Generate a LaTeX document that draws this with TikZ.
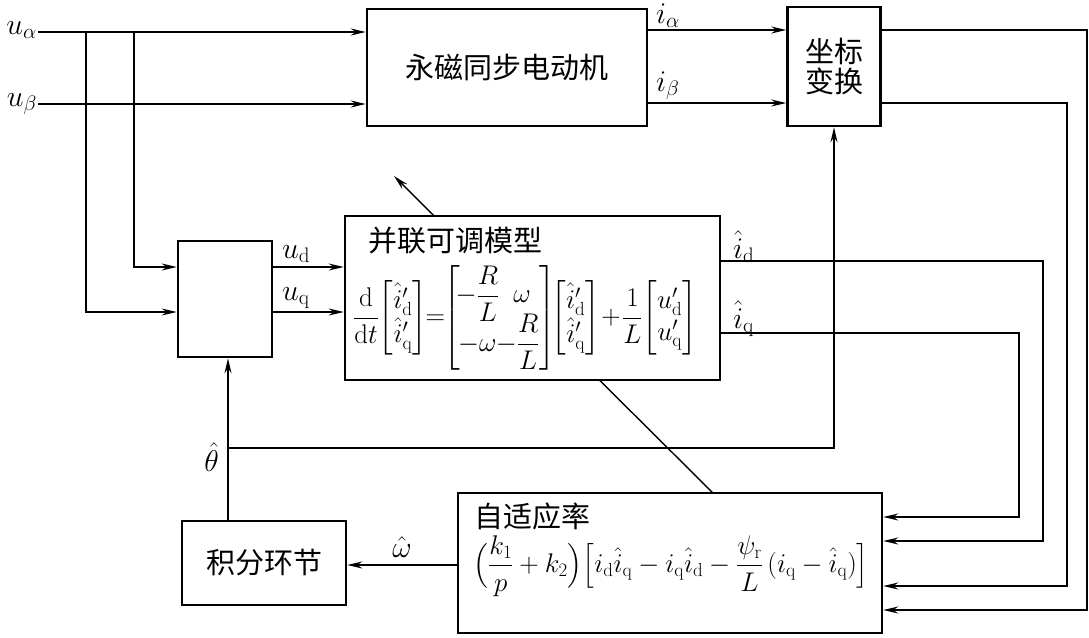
\RequirePackage{fix-cm}
\documentclass[tikz,border=0pt]{standalone}
\usepackage{amsmath}
\usepackage{fontspec}
\newfontfamily\cjk{Noto Sans CJK SC}
\usetikzlibrary{arrows.meta}
\tikzset{
  blk/.style={draw, line width=2.6pt, fill=white, inner sep=0pt},
  wire/.style={line width=1.4pt},
  arr/.style={wire, -{Stealth[length=15pt,width=7pt,inset=5pt]}},
  lbl/.style={inner sep=0pt, font=\fontsize{30}{35}\selectfont},
  eqt/.style={inner sep=0pt, font=\fontsize{27}{32}\selectfont},
  cjkt/.style={font=\cjk\fontsize{29}{34}\selectfont}
}
\newcommand{\rmsub}[1]{\mathrm{#1}}
\begin{document}
\begin{tikzpicture}[x=1pt,y=-1pt]
\useasboundingbox (0,0) rectangle (1089,637);
% diagonal adaptation arrow (behind the model box)
\coordinate (dg1) at (714,494);
\coordinate (dg2) at (394,176);
\draw[arr] (dg1) -- (dg2);
% blocks
\node[blk, cjkt, minimum width=280pt, minimum height=117pt] (motor) at (507,67.5) {永磁同步电动机};
\node[blk, cjkt, minimum width=93pt, minimum height=119pt, align=center] (coord) at (834,66.5) {坐标\\[-4pt]变换};
\node[blk, minimum width=94pt, minimum height=116pt] (small) at (225,299) {};
\node[blk, minimum width=375pt, minimum height=164pt] (par) at (532.5,298) {};
\node[blk, cjkt, minimum width=164pt, minimum height=84pt] (integ) at (264,563) {积分环节};
\node[blk, minimum width=424pt, minimum height=140pt] (adapt) at (670,563) {};
% block contents
\node[cjkt, anchor=west, inner sep=0pt] (partitle) at (368,241) {并联可调模型};
\node[eqt, anchor=center] (pareq) at (525,318) {$\dfrac{\mathrm{d}}{\mathrm{d}t}\!\begin{bmatrix}\hat{i}'_{\rmsub{d}}\\ \hat{i}'_{\rmsub{q}}\end{bmatrix}\!\!=\!\!\begin{bmatrix}\!-\dfrac{R}{L} & \!\omega\\[-7pt] \!-\omega & \!\!\!-\dfrac{R}{L}\end{bmatrix}\!\!\begin{bmatrix}\hat{i}'_{\rmsub{d}}\\ \hat{i}'_{\rmsub{q}}\end{bmatrix}\!+\!\dfrac{1}{L}\!\begin{bmatrix}u'_{\rmsub{d}}\\ u'_{\rmsub{q}}\end{bmatrix}$};
\node[cjkt, anchor=west, inner sep=0pt] (adtitle) at (474,516) {自适应率};
\node[eqt, anchor=center] (adeq) at (671,566) {$\Bigl(\dfrac{k_1}{p}+k_2\Bigr)\Bigl[i_{\rmsub{d}}\hat{i}_{\rmsub{q}}-i_{\rmsub{q}}\hat{i}_{\rmsub{d}}-\dfrac{\psi_{\rmsub{r}}}{L}\,(i_{\rmsub{q}}-\hat{i}_{\rmsub{q}})\Bigr]$};
% inputs
\coordinate (ua) at (38,32);
\coordinate (ub) at (38,104);
\coordinate (bx1) at (86,32);
\coordinate (bx2) at (134,32);
\node[lbl, anchor=east] (lua) at (37,30) {$u_{\rmsub{\alpha}}$};
\node[lbl, anchor=east] (lub) at (37,104) {$u_{\rmsub{\beta}}$};
\draw[arr] (ua) -- (ua -| motor.west);
\draw[arr] (ub) -- (ub -| motor.west);
\coordinate (sd) at (0,267);
\coordinate (sq) at (0,312);
\draw[arr] (bx2) -- (bx2 |- sd) -- (sd -| small.west);
\draw[arr] (bx1) -- (bx1 |- sq) -- (sq -| small.west);
% small box to model
\draw[arr] (sd -| small.east) -- (sd -| par.west);
\draw[arr] (sq -| small.east) -- (sq -| par.west);
\node[lbl, anchor=south west] (lud) at (282,263) {$u_{\rmsub{d}}$};
\node[lbl, anchor=south west] (luq) at (282,309) {$u_{\rmsub{q}}$};
% motor to coordinate transform
\coordinate (ia) at (0,30);
\coordinate (ib) at (0,103);
\draw[arr] (ia -| motor.east) -- (ia -| coord.west);
\draw[arr] (ib -| motor.east) -- (ib -| coord.west);
\node[lbl, anchor=south west] (lia) at (656,28) {$i_{\rmsub{\alpha}}$};
\node[lbl, anchor=south west] (lib) at (656,100) {$i_{\rmsub{\beta}}$};
% feedback lines to adaptive law
\coordinate (c1) at (1087,610);
\coordinate (c2) at (1067,586);
\coordinate (c3) at (1043,541);
\coordinate (c4) at (1019,517);
\coordinate (yd) at (0,261);
\coordinate (yq) at (0,333);
\draw[arr] (ia -| coord.east) -- (ia -| c1) -- (c1) -- (c1 -| adapt.east);
\draw[arr] (ib -| coord.east) -- (ib -| c2) -- (c2) -- (c2 -| adapt.east);
\draw[arr] (yd -| par.east) -- (yd -| c3) -- (c3) -- (c3 -| adapt.east);
\draw[arr] (yq -| par.east) -- (yq -| c4) -- (c4) -- (c4 -| adapt.east);
\node[lbl, anchor=south west] (lid) at (733,263) {$\hat{i}_{\rmsub{d}}$};
\node[lbl, anchor=south west] (liq) at (733,337) {$\hat{i}_{\rmsub{q}}$};
% omega and theta
\coordinate (th) at (228,448);
\draw[arr] (adapt.west |- 0,565) -- (integ.east |- 0,565);
\node[lbl, anchor=south] (lom) at (402,558) {$\hat{\omega}$};
\draw[arr] (th |- integ.north) -- (th |- small.south);
\draw[arr] (th) -- (th -| coord.south) -- (coord.south);
\node[lbl, anchor=east] (lth) at (219,457) {$\hat{\theta}$};
\end{tikzpicture}
\end{document}
